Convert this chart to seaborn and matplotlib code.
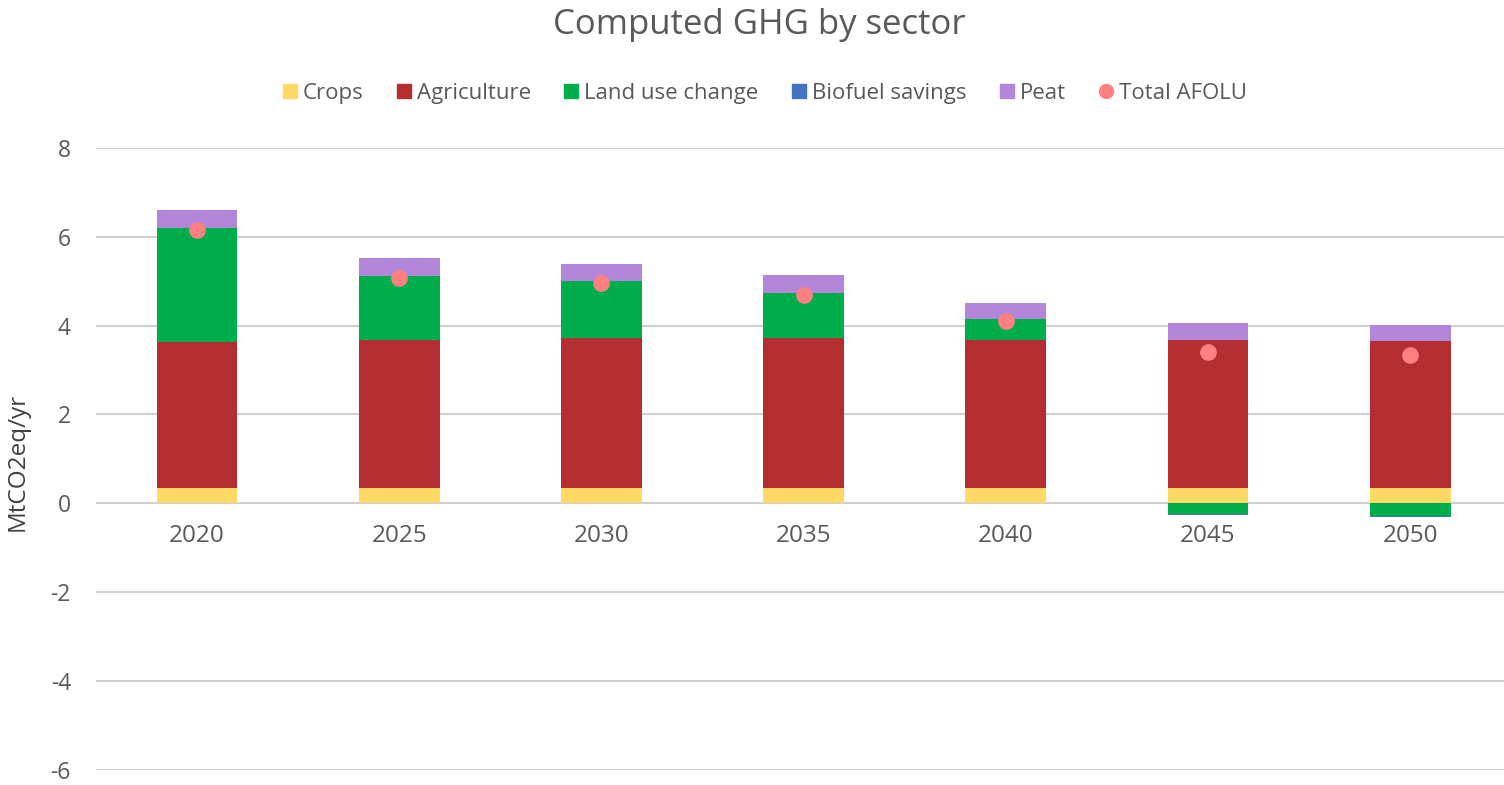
import numpy as np
import matplotlib
matplotlib.use("Agg")
import matplotlib.pyplot as plt
from matplotlib.lines import Line2D
import seaborn as sns

years = ["2020", "2025", "2030", "2035", "2040", "2045", "2050"]
crops = [0.35, 0.35, 0.35, 0.35, 0.35, 0.35, 0.35]
agriculture = [3.28, 3.32, 3.37, 3.37, 3.33, 3.33, 3.30]
land_use_change = [2.56, 1.44, 1.28, 1.02, 0.46, -0.25, -0.29]
biofuel_savings = [0.0, 0.0, 0.0, 0.0, 0.0, -0.02, -0.03]
peat = [0.41, 0.41, 0.39, 0.40, 0.38, 0.38, 0.37]
total_afolu = [6.16, 5.08, 4.97, 4.70, 4.11, 3.40, 3.34]

c_crops = "#FFD966"
c_agri = "#B32D31"
c_luc = "#00AD4D"
c_bio = "#4472C4"
c_peat = "#B386D9"
c_total = "#FF8080"

sns.set_theme(style="white")
plt.rcParams["font.family"] = ["Open Sans", "DejaVu Sans"]
plt.rcParams["axes.unicode_minus"] = False

fig = plt.figure(figsize=(15.04, 7.85), dpi=100)
ax = fig.add_axes([0.0638, 0.0195, 0.941, 0.792])

cr = np.array(crops)
ag = np.array(agriculture)
lu = np.array(land_use_change)
bi = np.array(biofuel_savings)
pe = np.array(peat)
lu_pos = np.clip(lu, 0, None)
lu_neg = np.clip(lu, None, 0)

# stacked segments drawn as overlays of cumulative totals (tallest first)
layers = [
    (cr + ag + lu_pos + pe, c_peat),
    (cr + ag + lu_pos, c_luc),
    (cr + ag, c_agri),
    (cr, c_crops),
    (lu_neg + bi, c_bio),
    (lu_neg, c_luc),
]
for vals, col in layers:
    sns.barplot(x=years, y=vals, color=col, width=0.4, saturation=1,
                linewidth=0, ax=ax, errorbar=None)

sns.pointplot(x=years, y=total_afolu, color=c_total, linestyle="none",
              markers="o", markersize=10, ax=ax, errorbar=None)

ax.set_ylim(-6, 8)
ax.set_xlim(-0.5, 6.5)
ax.set_yticks([-6, -4, -2, 0, 2, 4, 6, 8])
ax.yaxis.grid(True, color="#D0D0D0", linewidth=1.5)
ax.set_axisbelow(True)
for s in ax.spines.values():
    s.set_visible(False)
ax.spines["bottom"].set_position(("data", 0))
ax.tick_params(axis="both", length=0, colors="#595959")
ax.tick_params(axis="x", pad=15, labelsize=17.5)
ax.tick_params(axis="y", pad=18, labelsize=16.5)
ax.set_xlabel("")
ax.set_ylabel("MtCO2eq/yr", fontsize=17.5, color="#404040", labelpad=0)
ax.yaxis.set_label_coords(-0.047, 0.495)

fig.suptitle("Computed GHG by sector", x=0.505, y=0.99, fontsize=25, color="#595959")

handles = [
    Line2D([], [], marker="s", linestyle="none", color=c_crops, markersize=10),
    Line2D([], [], marker="s", linestyle="none", color=c_agri, markersize=10),
    Line2D([], [], marker="s", linestyle="none", color=c_luc, markersize=10),
    Line2D([], [], marker="s", linestyle="none", color=c_bio, markersize=10),
    Line2D([], [], marker="s", linestyle="none", color=c_peat, markersize=10),
    Line2D([], [], marker="o", linestyle="none", color=c_total, markersize=10),
]
labels = ["Crops", "Agriculture", "Land use change", "Biofuel savings", "Peat", "Total AFOLU"]
leg = fig.legend(handles, labels, loc="center", bbox_to_anchor=(0.508, 0.8815), ncol=6,
                 frameon=False, fontsize=16, handlelength=0.8, handletextpad=0.2,
                 columnspacing=1.4, labelcolor="#595959")

fig.savefig("out.png", dpi=100)
